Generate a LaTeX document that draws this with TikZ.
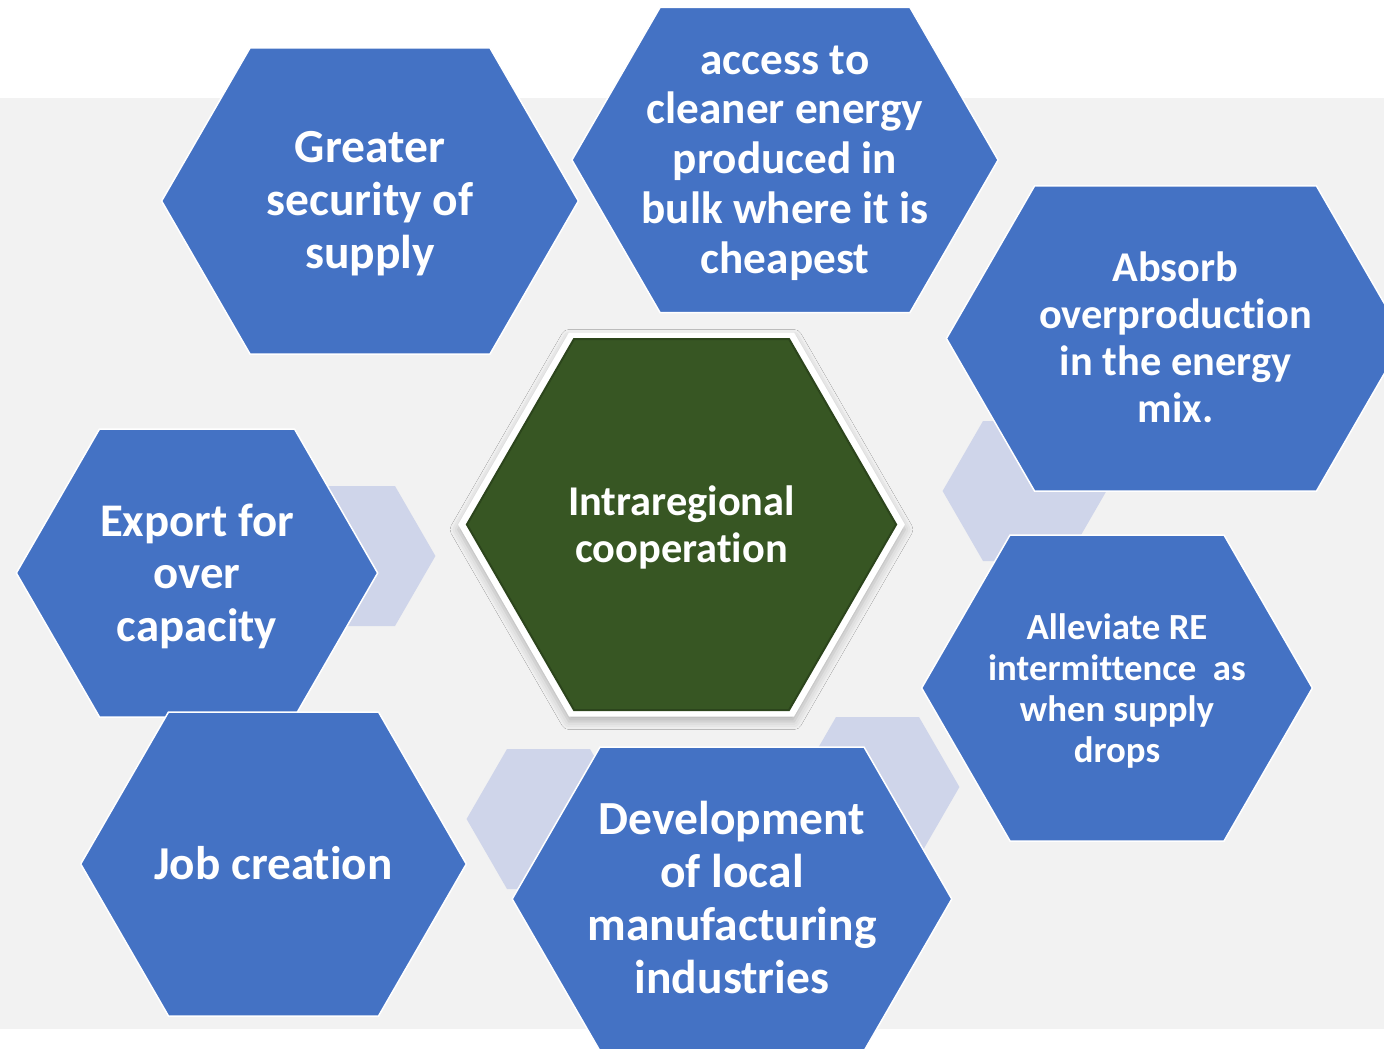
\documentclass[tikz,border=0pt]{standalone}
\usepackage{fontspec}
\setmainfont{Carlito}[RawFeature={-liga;-clig;-calt;-dlig}]
\usetikzlibrary{shadows.blur}

\definecolor{bgGray}{HTML}{F2F2F2}
\definecolor{hexBlue}{HTML}{4472C4}
\definecolor{hexPale}{HTML}{CFD5EA}
\definecolor{hexGreen}{HTML}{375623}

% flat-topped hexagon: [style]{centre}{half top edge}{half height}
\newcommand{\hexa}[4][]{%
  \path[#1, shift={(#2)}] ({-#3-0.5774*#4},0) -- (-#3,-#4) -- (#3,-#4)
    -- ({#3+0.5774*#4},0) -- (#3,#4) -- (-#3,#4) -- cycle;}

\begin{document}
\begin{tikzpicture}[x=0.5pt, y=-0.5pt,
    benefit/.style={fill=hexBlue, draw=white, line width=0.75pt},
    ghost/.style={fill=hexPale},
    txt/.style={text=white, align=center, inner sep=0pt, yshift=-1.5pt}]

    \useasboundingbox (0,0) rectangle (1384,1048);
    \clip (0,0) rectangle (1384,1048);

    % Background band
    \fill[white] (0,0) rectangle (1384,1048);
    \fill[bgGray] (0,98) rectangle (1384,1029);

    % Centres of the cells
    \coordinate (Csec) at (370,201);
    \coordinate (Ccln) at (785,160);
    \coordinate (Cabs) at (1175.5,338.5);
    \coordinate (Cexp) at (197,573);
    \coordinate (Cjob) at (273.5,864);
    \coordinate (Cint) at (681.5,524.5);
    \coordinate (Cdev) at (732,899);
    \coordinate (Call) at (1117,688);

    \coordinate (P1) at (353.5,556);
    \coordinate (P2) at (1024.5,491);
    \coordinate (P3) at (877.5,787);
    \coordinate (P4) at (548.5,819);

    % Draw pale cells behind
    \hexa[ghost]{P1}{41.5}{70}
    \hexa[ghost]{P2}{41.5}{70}
    \hexa[ghost]{P3}{41.5}{70}
    \hexa[ghost]{P4}{41.5}{70}

    % Draw blue cells
    \hexa[benefit]{Csec}{120}{153}
    \hexa[benefit]{Ccln}{125}{152.5}
    \hexa[benefit]{Cabs}{141}{152.5}
    \hexa[benefit]{Cexp}{97.5}{144}
    \hexa[benefit]{Cjob}{105}{152}
    \hexa[benefit]{Cdev}{132}{152}
    \hexa[benefit]{Call}{107}{153}

    % Draw centre cell
    \hexa[fill=white, blur shadow={shadow xshift=0pt, shadow yshift=-2.5pt,
      shadow blur radius=4pt, shadow opacity=25}]{Cint}{112.5}{192}
    \hexa[fill=hexGreen, draw=hexGreen!80!black, line width=1pt]{Cint}{107.5}{185.5}

    % Texts
    \node[txt, font=\bfseries\fontsize{23.75}{26.5}\selectfont] (security) at (Csec)
      {Greater\\security of\\supply};
    \node[txt, font=\bfseries\fontsize{22.6}{24.9}\selectfont] (cleaner) at (Ccln)
      {access to\\cleaner energy\\produced in\\bulk where it is\\cheapest};
    \node[txt, yshift=2pt, font=\bfseries\fontsize{21.2}{23.5}\selectfont] (absorb) at (Cabs)
      {Absorb\\overproduction\\in the energy\\mix.};
    \node[txt, font=\bfseries\fontsize{23.4}{26.25}\selectfont] (export) at (Cexp)
      {Export for\\over\\capacity};
    \node[txt, yshift=2pt, font=\bfseries\fontsize{23.6}{26.25}\selectfont] (jobs) at (Cjob)
      {Job creation};
    \node[txt, font=\bfseries\fontsize{21.2}{23.5}\selectfont] (intra) at (Cint)
      {Intraregional\\cooperation};
    \node[txt, yshift=2.5pt, font=\bfseries\fontsize{23.75}{26.5}\selectfont] (develop) at (Cdev)
      {Development\\of local\\manufacturing\\industries};
    \node[txt, font=\bfseries\fontsize{18.4}{20.35}\selectfont] (alleviate) at (Call)
      {Alleviate RE\\intermittence~ as\\when supply\\drops};
\end{tikzpicture}
\end{document}
